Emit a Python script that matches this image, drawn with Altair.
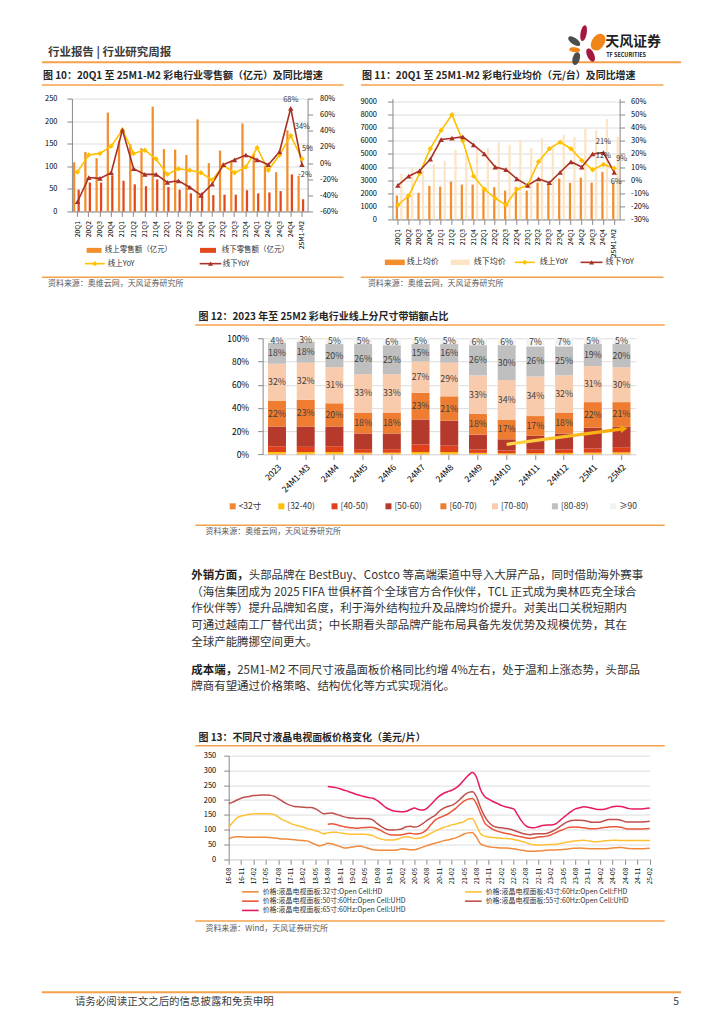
import altair as alt
import pandas as pd

FONT = "Noto Sans CJK SC"
RULE = "#F5A14B"
TXT = "#333333"
AX = "#404040"
SRC = "#595959"
ONE = pd.DataFrame({"k": [0]})

# ---------------- Figure 10 / 11 : quarterly data ----------------
quarters = ["20Q1", "20Q2", "20Q3", "20Q4", "21Q1", "21Q2", "21Q3", "21Q4",
            "22Q1", "22Q2", "22Q3", "22Q4", "23Q1", "23Q2", "23Q3", "23Q4",
            "24Q1", "24Q2", "24Q3", "24Q4", "25M1-M2"]
sales_online = [109, 132, 118, 219, 157, 149, 140, 232, 138, 137, 125, 204, 107, 135, 112, 195, 128, 101, 87, 180, 79]
sales_offline = [48, 64, 64, 80, 68, 60, 56, 71, 54, 48, 40, 42, 36, 37, 37, 47, 40, 42, 45, 82, 27]
sales_online_yoy = [-11, 10, 12, 21, 41, 12, 16, 5, -14, -7, -9, -12, -21, -3, -12, -5, 19, -9, 10, 34, 5]
sales_offline_yoy = [-48, -18, -19, -12, 41, -7, -14, -14, -24, -22, -30, -40, -26, -2, 4, 10, 4, -2, 14, 68, -2]

price_online = [1825, 1880, 2030, 2560, 2510, 2890, 2660, 2660, 2330, 2460, 2200, 2460, 2200, 2810, 2660, 3120, 2790, 3190, 2810, 3630, 2790]
price_offline = [3470, 3980, 3730, 4200, 4490, 5300, 5300, 5500, 5450, 5860, 5700, 6090, 5450, 6210, 5630, 6470, 6310, 6900, 6820, 7660, 6310]
price_online_yoy = [-19, -12, 5, 24, 38, 50, 30, 3, -7, -14, -19, -7, -4, 14, 24, 29, 24, 15, 8, 12, 9]
price_offline_yoy = [-4, 3, 7, 16, 31, 32, 33, 27, 20, 10, 8, 1, -4, 1, -2, 6, 14, 10, 20, 21, 6]

# ---------------- Figure 12 : size-band shares ----------------
months12 = ["2023", "24M1-M3", "24M4", "24M5", "24M6", "24M7", "24M8", "24M9",
            "24M10", "24M11", "24M12", "25M1", "25M2"]
sizes12 = ["<32寸", "[32-40)", "[40-50)", "[50-60)", "[60-70)", "[70-80)", "[80-89)", "≥90"]
share_lt32 = [0.5, 0.5, 0.5, 0.5, 0.5, 0.5, 0.5, 0.3, 0.3, 0.3, 0.3, 0.5, 0.5]
share_32_40 = [1.5, 1.5, 1.5, 1.0, 1.0, 1.5, 1.5, 1.0, 0.7, 0.7, 1.0, 1.0, 1.2]
share_40_50 = [5.0, 4.5, 5.0, 3.0, 3.0, 6.5, 5.5, 3.0, 2.4, 3.0, 3.0, 3.5, 4.5]
share_50_60 = [17.0, 17.5, 17.0, 13.5, 13.5, 21.5, 21.5, 12.7, 9.6, 12.0, 13.7, 18.0, 17.8]
share_60_70 = [22, 23, 20, 18, 18, 23, 21, 18, 17, 17, 18, 22, 21]
share_70_80 = [32, 32, 31, 33, 33, 27, 29, 33, 34, 34, 32, 31, 30]
share_80_89 = [18, 18, 20, 26, 25, 15, 16, 26, 30, 26, 25, 19, 20]
share_ge90 = [4, 3, 5, 5, 6, 5, 5, 6, 6, 7, 7, 5, 5]
arrow12_from = ("24M10", 8.6)
arrow12_to = ("25M2", 21.9)

# ---------------- Figure 13 : monthly panel prices ----------------
months13 = []
_y, _m = 2016, 8
for _ in range(103):
    months13.append(f"{_y % 100:02d}-{_m:02d}")
    _m += 1
    if _m > 12:
        _m, _y = 1, _y + 1
ticks13 = months13[::3]
names13 = ["价格:液晶电视面板:32寸:Open Cell:HD",
           "价格:液晶电视面板:43寸:60Hz:Open Cell:FHD",
           "价格:液晶电视面板:50寸:60Hz:Open Cell:UHD",
           "价格:液晶电视面板:55寸:60Hz:Open Cell:UHD",
           "价格:液晶电视面板:65寸:60Hz:Open Cell:UHD"]
p32 = [69, 74, 76, 76, 75, 74, 74, 74, 74, 74, 73, 72, 70,
       68, 68, 67, 66, 64, 63, 62, 56, 50, 45, 49, 54,
       52, 47, 43, 38, 39, 41, 44, 44, 40, 36, 32, 31,
       30, 30, 30, 30, 32, 35, 34, 32, 32, 36, 41, 46,
       50, 54, 58, 62, 65, 68, 72, 78, 85, 89, 90, 75,
       52, 46, 42, 40, 39, 38, 38, 37, 35, 33, 30, 28,
       27, 27, 28, 29, 30, 31, 31, 32, 33, 34, 36, 37,
       38, 37, 36, 35, 35, 35, 35, 36, 38, 39, 40, 38,
       36, 35, 35, 35, 36, 37]
p43 = [107, 125, 140, 146, 149, 152, 153, 154, 154, 154, 153, 151, 143,
       134, 128, 121, 116, 112, 109, 104, 101, 96, 92, 86, 89,
       91, 91, 89, 87, 85, 84, 84, 84, 84, 82, 79, 72,
       68, 65, 65, 65, 68, 73, 76, 74, 70, 71, 74, 80,
       88, 95, 101, 107, 111, 116, 119, 123, 127, 136, 138, 115,
       86, 78, 75, 73, 72, 71, 70, 69, 67, 64, 60, 56,
       51, 49, 48, 48, 49, 50, 50, 52, 55, 58, 60, 62,
       63, 64, 62, 60, 59, 60, 62, 63, 64, 64, 63, 63,
       63, 63, 63, 63, 63, 63]
p50 = [None] * 24 + [
       118, 120, 117, 113, 110, 107, 106, 105, 106, 107, 108, 107, 103,
       96, 88, 83, 82, 82, 83, 86, 88, 85, 86, 90, 100,
       117, 132, 140, 146, 152, 162, 172, 185, 196, 203, 205, 188,
       155, 123, 110, 101, 95, 91, 88, 85, 81, 78, 75, 72,
       70, 72, 75, 76, 78, 82, 88, 95, 100, 106, 108, 109,
       108, 106, 104, 103, 103, 105, 107, 109, 110, 110, 108, 104,
       102, 102, 102, 102, 103, 104]
p55 = [188, 193, 200, 206, 210, 212, 215, 216, 217, 217, 216, 213, 205,
       196, 188, 182, 178, 177, 176, 175, 175, 170, 162, 154, 155,
       156, 152, 148, 143, 140, 139, 138, 138, 138, 137, 132, 120,
       110, 102, 99, 99, 100, 103, 110, 111, 109, 112, 120, 131,
       140, 148, 162, 172, 178, 182, 190, 202, 216, 225, 228, 212,
       175, 145, 125, 113, 108, 106, 104, 102, 98, 93, 88, 84,
       83, 85, 86, 86, 87, 92, 99, 108, 118, 126, 131, 132,
       132, 131, 128, 125, 125, 126, 130, 134, 134, 134, 132, 127,
       126, 126, 126, 126, 127, 128]
p65 = [None] * 24 + [
       246, 244, 242, 238, 233, 229, 224, 219, 215, 211, 208, 206, 198,
       187, 175, 168, 163, 161, 160, 162, 168, 173, 168, 166, 172,
       185, 200, 213, 222, 228, 233, 240, 252, 268, 283, 293, 278,
       235, 212, 203, 195, 189, 182, 177, 174, 170, 150, 128, 113,
       107, 106, 110, 114, 116, 116, 118, 128, 140, 151, 162, 170,
       174, 177, 176, 172, 169, 168, 169, 173, 177, 179, 178, 175,
       171, 170, 170, 170, 171, 173]

# ---------------- texts ----------------
header_text = "行业报告 | 行业研究周报"
title10 = "图 10：20Q1 至 25M1-M2 彩电行业零售额（亿元）及同比增速"
title11 = "图 11：20Q1 至 25M1-M2 彩电行业均价（元/台）及同比增速"
title12 = "图 12：2023 年至 25M2 彩电行业线上分尺寸带销额占比"
title13 = "图 13：不同尺寸液晶电视面板价格变化（美元/片）"
source_avc = "资料来源：奥维云网，天风证券研究所"
source_wind = "资料来源：Wind，天风证券研究所"
para = [
    ("外销方面，", "头部品牌在 BestBuy、Costco 等高端渠道中导入大屏产品，同时借助海外赛事"),
    ("", "（海信集团成为 2025 FIFA 世俱杯首个全球官方合作伙伴，TCL 正式成为奥林匹克全球合"),
    ("", "作伙伴等）提升品牌知名度，利于海外结构拉升及品牌均价提升。对美出口关税短期内"),
    ("", "可通过越南工厂替代出货；中长期看头部品牌产能布局具备先发优势及规模优势，其在"),
    ("", "全球产能腾挪空间更大。"),
    ("成本端，", "25M1-M2 不同尺寸液晶面板价格同比约增 4%左右，处于温和上涨态势，头部品"),
    ("", "牌商有望通过价格策略、结构优化等方式实现消化。"),
]
footer_text = "请务必阅读正文之后的信息披露和免责申明"

# ---------------- colours ----------------
C_ON = "#F28E2B"
C_OFF = "#E1491D"
C_CREAM = "#FCE4C4"
C_YOY_ON = "#FFC000"
C_YOY_OFF = "#A93226"
colors12 = ["#F0872E", "#FFC000", "#E0401C", "#B53A2B", "#EE7D31", "#F8CBAD", "#BFBFBF", "#F2F2F2"]
colors13 = ["#F08A3E", "#FFC133", "#E9573A", "#C0504D", "#E8195C"]

L = 9  # left edge (page px) of every row box; a 1px spacer occupies page x 8..9
NOVIEW = alt.ViewBackground(stroke=None, strokeWidth=0, fill=None)


# ---------------- helpers (page-pixel decorations) ----------------
def txt(s, px, py, org, size, color=TXT, weight="normal", align="left", baseline="middle"):
    return alt.Chart(ONE).mark_text(text=s, font=FONT, fontSize=size, fontWeight=weight, color=color,
                                    align=align, baseline=baseline).encode(
        x=alt.value(px - org[0]), y=alt.value(py - org[1]))


def hrule(px0, px1, py, org, color=RULE, width=1.5):
    return alt.Chart(ONE).mark_rule(color=color, strokeWidth=width).encode(
        x=alt.value(px0 - org[0]), x2=alt.value(px1 - org[0]), y=alt.value(py - org[1]))


def _dot(px, py, org):
    return alt.Chart(ONE).mark_rect(color="#FFFFFF", opacity=1, strokeWidth=0).encode(
        x=alt.value(px - org[0]), x2=alt.value(px + 1 - org[0]),
        y=alt.value(py - org[1]), y2=alt.value(py + 1 - org[1]))


def box(b, org):
    # two page-coloured 1px dots at opposite corners fix the cell's extent for the layout
    return [_dot(b[0], b[1], org), _dot(b[2] - 1, b[3] - 1, org)]


def key_rect(cx, cy, org, color, w, h):
    return alt.Chart(ONE).mark_rect(color=color).encode(
        x=alt.value(cx - w / 2 - org[0]), x2=alt.value(cx + w / 2 - org[0]),
        y=alt.value(cy - h / 2 - org[1]), y2=alt.value(cy + h / 2 - org[1]))


def key_point(cx, cy, org, color, shape, size, angle=0):
    return alt.Chart(ONE).mark_point(shape=shape, filled=True, opacity=1, color=color, size=size,
                                     angle=angle).encode(
        x=alt.value(cx - org[0]), y=alt.value(cy - org[1]))


def legend_entry(label, color, kind, cx, cy, org, sym_w, font_size, label_x=None, sym_h=5):
    out = []
    if kind == "bar":
        out.append(key_rect(cx, cy, org, color, sym_w, sym_h))
    elif kind == "line":
        out.append(hrule(cx - sym_w / 2, cx + sym_w / 2, cy, org, color, 1.6))
    else:
        out.append(hrule(cx - sym_w / 2, cx + sym_w / 2, cy, org, color, 1.6))
        out.append(key_point(cx, cy, org, color, kind, 26))
    lx = label_x if label_x is not None else cx + sym_w / 2 + 4
    out.append(txt(label, lx, cy, org, font_size))
    return out


def petal(r):
    w = 4 * r / 3
    return f"M0,-1 C{w:.3f},-1 {w:.3f},1 0,1 C{-w:.3f},1 {-w:.3f},-1 0,-1 Z"


def spacer():
    return alt.Chart(ONE).mark_rect(color="#FFFFFF", strokeWidth=0).encode(
        x=alt.value(0), x2=alt.value(1), y=alt.value(0), y2=alt.value(1)
    ).properties(width=1, height=1, view=NOVIEW)


# =============== ROW 0 : header ===============
ORG0 = (L, 8)
BOX0 = (L, 8, 716, 66)
logo = [  # (cx, cy, length, ratio, angle, colour)
    (584.5, 32.5, 16, 0.38, 10, "#A6193E"),
    (599.0, 41.5, 18, 0.70, 32, "#F08519"),
    (575.0, 40.5, 14, 0.45, 305, "#4D4D4D"),
    (575.5, 49.0, 11, 0.45, 95, "#F08519"),
    (577.0, 58.0, 13, 0.55, 15, "#4D4D4D"),
    (591.5, 54.5, 14, 0.50, 335, "#A6193E"),
]
header_layers = box(BOX0, ORG0) + [
    txt(header_text, 48, 52, ORG0, 11.5, color="#3A3A3A", weight="bold"),
    hrule(42, 682, 61.5, ORG0, RULE, 2)]
for cx, cy, ln, r, ang, col in logo:
    header_layers.append(key_point(cx, cy, ORG0, col, petal(r), ln * ln, ang))
header_layers.append(txt("天风证券", 606, 41.5, ORG0, 14, color="#222222", weight="bold"))
header_layers.append(txt("TF SECURITIES", 607, 54, ORG0, 5.5, color="#222222", weight="bold"))
header = alt.layer(*header_layers).properties(width=BOX0[2] - BOX0[0], height=BOX0[3] - BOX0[1], view=NOVIEW)


# =============== shared builder for figures 10 / 11 ===============
def dual_chart(names, bar_vals, bar_colors, yl_dom, yl_vals, yl_pad, yr_dom, yr_vals, yr_pad,
               yoy_on, yoy_off, labels):
    bars_df = pd.DataFrame({"q": quarters * 2, "s": [names[0]] * 21 + [names[1]] * 21,
                            "v": bar_vals[0] + bar_vals[1]})
    yoy_df = pd.DataFrame({"q": quarters, "on": yoy_on, "off": yoy_off})
    x_axis = alt.Axis(labelAngle=-90, labelFontSize=6.8, labelPadding=4, title=None, labelOverlap=False)
    xenc = alt.X("q:N", sort=quarters, scale=alt.Scale(paddingInner=0.2, paddingOuter=0.1), axis=x_axis)
    bars = alt.Chart(bars_df).mark_bar().encode(
        x=xenc,
        xOffset=alt.XOffset("s:N", sort=names, scale=alt.Scale(paddingInner=0, paddingOuter=0)),
        y=alt.Y("v:Q", scale=alt.Scale(domain=yl_dom, nice=False),
                axis=alt.Axis(orient="left", values=yl_vals, format="d", labelFontSize=7.5,
                              labelPadding=yl_pad, title=None)),
        color=alt.Color("s:N", scale=alt.Scale(domain=names, range=bar_colors), legend=None))
    r_scale = alt.Scale(domain=yr_dom, nice=False)
    r_axis = alt.Axis(orient="right", values=yr_vals, labelExpr="datum.value + '%'", labelFontSize=7.5,
                      labelPadding=yr_pad, title=None)

    def yr(field):
        return alt.Y(f"{field}:Q", scale=r_scale, axis=r_axis)

    inner = [
        alt.Chart(yoy_df).mark_line(color=C_YOY_ON, strokeWidth=1.6).encode(x=xenc, y=yr("on")),
        alt.Chart(yoy_df).mark_line(color=C_YOY_OFF, strokeWidth=1.6).encode(x=xenc, y=yr("off")),
        alt.Chart(yoy_df).mark_point(shape="diamond", filled=True, size=30, color=C_YOY_ON, opacity=1).encode(
            x=xenc, y=yr("on")),
        alt.Chart(yoy_df).mark_point(shape="triangle-up", filled=True, size=30, color=C_YOY_OFF, opacity=1).encode(
            x=xenc, y=yr("off")),
    ]
    for q, field, dx, dy, align in labels:
        inner.append(
            alt.Chart(yoy_df).transform_filter(alt.datum.q == q)
            .transform_calculate(t=f"datum.{field} + '%'")
            .mark_text(font=FONT, fontSize=7.5, color=TXT, dx=dx, dy=dy, align=align)
            .encode(x=xenc, y=yr(field), text="t:N"))
    return bars, alt.layer(*inner)


# =============== ROW 1 : figure 10 ===============
ORG10 = (72, 98)
W10, H10 = 236, 113
BOX10 = (L, 66, 352, 298)
names10 = ["线上零售额（亿元）", "线下零售额（亿元）"]
labels10 = [("24Q4", "off", 0, -8, "center"), ("24Q4", "on", 4, -9, "left"),
            ("25M1-M2", "on", 0, -10, "left"), ("25M1-M2", "off", 3, 10, "center")]
bars10, inner10 = dual_chart(names10, [sales_online, sales_offline], [C_ON, C_OFF],
                             [0, 250], list(range(0, 251, 50)), 10, [-60, 80], list(range(-60, 81, 20)), 7,
                             sales_online_yoy, sales_offline_yoy, labels10)
legend10 = [("线上零售额（亿元）", C_ON, "bar"), ("线下零售额（亿元）", C_OFF, "bar"),
            ("线上YoY", C_YOY_ON, "diamond"), ("线下YoY", C_YOY_OFF, "triangle-up")]
legend10_pos = [(94.2, 250, 15, 105), (208.3, 250, 16, 222), (95, 263.3, 20, 108), (210.8, 263.3, 21.7, 223)]
deco10 = [txt(title10, 43, 75.5, ORG10, 10, color="#262626", weight="bold"),
          hrule(42, 344, 84.5, ORG10),
          hrule(42, 344, 277, ORG10),
          txt(source_avc, 48, 284, ORG10, 8, color=SRC)]
for (lab, col, kind), (cx, cy, sw, lx) in zip(legend10, legend10_pos):
    deco10 += legend_entry(lab, col, kind, cx, cy, ORG10, sw, 7.5, label_x=lx)
c10 = alt.layer(*box(BOX10, ORG10), bars10, inner10, *deco10).resolve_scale(y="independent").properties(
    width=W10, height=H10, view=NOVIEW)

# =============== ROW 1 : figure 11 ===============
ORG11 = (392.6, 98)
W11, H11 = 227.5, 121
BOX11 = (352, 66, 716, 298)
names11 = ["线上均价", "线下均价"]
labels11 = [("24Q4", "off", 0, -11, "center"), ("24Q4", "on", 0, -8, "center"),
            ("25M1-M2", "on", 2, -9, "left"), ("25M1-M2", "off", 2, 10, "center")]
bars11, inner11 = dual_chart(names11, [price_online, price_offline], [C_ON, C_CREAM],
                             [0, 9000 * 121 / 118], list(range(0, 9001, 1000)), 11,
                             [-30, -30 + 90 * 121 / 118], list(range(-30, 61, 10)), 6,
                             price_online_yoy, price_offline_yoy, labels11)
legend11 = [("线上均价", C_ON, "bar"), ("线下均价", C_CREAM, "bar"),
            ("线上YoY", C_YOY_ON, "diamond"), ("线下YoY", C_YOY_OFF, "triangle-up")]
legend11_pos = [(395, 262, 20, 407), (460.5, 262, 19, 474), (525, 262, 20, 540), (592, 262, 22, 606)]
deco11 = [txt(title11, 362, 75.5, ORG11, 10, color="#262626", weight="bold"),
          hrule(361, 664, 84.5, ORG11),
          hrule(361, 664, 277, ORG11),
          txt(source_avc, 368, 284, ORG11, 8, color=SRC)]
for (lab, col, kind), (cx, cy, sw, lx) in zip(legend11, legend11_pos):
    deco11 += legend_entry(lab, col, kind, cx, cy, ORG11, sw, 8, label_x=lx, sym_h=5.5)
c11 = alt.layer(*box(BOX11, ORG11), bars11, inner11, *deco11).resolve_scale(y="independent").properties(
    width=W11, height=H11, view=NOVIEW)

# =============== ROW 2 : figure 12 ===============
ORG12 = (262.3, 337.7)
W12, H12 = 373.75, 116.3
BOX12 = (L, 298, 716, 548)
shares = [share_lt32, share_32_40, share_40_50, share_50_60, share_60_70, share_70_80, share_80_89, share_ge90]
rows12 = []
for k, (sz, arr) in enumerate(zip(sizes12, shares)):
    for m, v in zip(months12, arr):
        rows12.append({"m": m, "size": sz, "idx": k, "v": v})
df12 = pd.DataFrame(rows12)
x12 = alt.X("m:N", sort=months12, scale=alt.Scale(paddingInner=0.374, paddingOuter=0.187),
            axis=alt.Axis(labelAngle=-45, labelFontSize=8.5, labelPadding=3, domain=True, domainColor="#D9D9D9",
                          title=None, labelOverlap=False))
y12s = alt.Scale(domain=[0, 100], nice=False)
y12a = alt.Axis(values=list(range(0, 101, 20)), labelExpr="datum.value + '%'", labelFontSize=8.5, labelPadding=9,
                title=None)
bars12 = alt.Chart(df12).mark_bar().encode(
    x=x12, y=alt.Y("v:Q", stack="zero", scale=y12s, axis=y12a),
    color=alt.Color("size:N", scale=alt.Scale(domain=sizes12, range=colors12), legend=None),
    order=alt.Order("idx:Q", sort="ascending"))
labels12 = alt.Chart(df12).transform_stack(
    stack="v", groupby=["m"], as_=["v0", "v1"], sort=[alt.SortField("idx", order="ascending")]
).transform_filter("datum.idx >= 4").transform_calculate(
    mid="(datum.v0 + datum.v1) / 2", t="datum.v + '%'"
).mark_text(font=FONT, fontSize=8.8, color="#404040").encode(
    x=x12, y=alt.Y("mid:Q", scale=y12s, axis=y12a), text="t:N")
arrow_df = pd.DataFrame({"i0": [months12.index(arrow12_from[0])], "i1": [months12.index(arrow12_to[0]) + 0.05],
                         "y0": [arrow12_from[1]], "y1": [arrow12_to[1]]})
ax_idx = alt.Scale(domain=[-0.5, len(months12) - 0.5], nice=False, zero=False)
grad = alt.LinearGradient(gradient="linear", x1=0, x2=1, y1=0, y2=0,
                          stops=[alt.GradientStop(color="#FFD84D", offset=0),
                                 alt.GradientStop(color="#F7A600", offset=1)])
arrow_line = alt.Chart(arrow_df).mark_rule(stroke=grad, strokeWidth=3.2).encode(
    x=alt.X("i0:Q", scale=ax_idx, axis=None), x2="i1:Q",
    y=alt.Y("y0:Q", scale=y12s, axis=y12a), y2="y1:Q")
arrow_head = alt.Chart(arrow_df).mark_point(shape="M-0.6,-1 L1.2,0 L-0.6,1 Z", filled=True, opacity=1,
                                            color="#F7A600", size=60, angle=352.4).encode(
    x=alt.X("i1:Q", scale=ax_idx, axis=None), y=alt.Y("y1:Q", scale=y12s, axis=y12a))
legend12_x = [232.3, 281, 334.3, 388.3, 443.3, 495, 555, 613.3]
deco12 = [txt(title12, 198, 316, ORG12, 10, color="#262626", weight="bold"),
          hrule(195, 665, 324.5, ORG12),
          hrule(195, 665, 525, ORG12),
          txt(source_avc, 205, 532, ORG12, 8, color=SRC)]
for lab, col, cx in zip(sizes12, colors12, legend12_x):
    deco12.append(key_rect(cx, 506, ORG12, col, 6, 6))
    deco12.append(txt(lab, cx + 6, 506, ORG12, 8.5))
c12 = alt.layer(*box(BOX12, ORG12), alt.layer(bars12, labels12), alt.layer(arrow_line, arrow_head),
                *deco12).resolve_scale(x="independent").properties(width=W12, height=H12, view=NOVIEW)

# =============== ROW 3 : text ===============
ORG3 = (L, 548)
BOX3 = (L, 548, 716, 722)
para_y = [575, 591.7, 608.4, 625.1, 641.8, 670, 686.7]
FS = 11.5
para_layers = box(BOX3, ORG3)
for (bold, rest), py in zip(para, para_y):
    x0 = 191.5
    if bold:
        para_layers.append(txt(bold, x0, py, ORG3, FS, color="#1F1F1F", weight="bold"))
        x0 += len(bold) * FS
    para_layers.append(txt(rest, x0, py, ORG3, FS, color=TXT))
para_chart = alt.layer(*para_layers).properties(width=BOX3[2] - BOX3[0], height=BOX3[3] - BOX3[1], view=NOVIEW)

# =============== ROW 4 : figure 13 ===============
ORG13 = (228.3, 754.3)
W13, H13 = 421.7, 103.7
BOX13 = (L, 722, 716, 948)
rows13 = []
for name, arr in zip(names13, [p32, p43, p50, p55, p65]):
    for m, v in zip(months13, arr):
        if v is not None:
            rows13.append({"m": m, "s": name, "v": v})
df13 = pd.DataFrame(rows13)
lines13 = alt.Chart(df13).mark_line(strokeWidth=1.5, interpolate="monotone").encode(
    x=alt.X("m:O", sort=months13, scale=alt.Scale(type="point", padding=0),
            axis=alt.Axis(values=ticks13, labelAngle=-90, labelFontSize=6.5, labelPadding=3, domain=True,
                          domainColor="#D9D9D9", title=None, labelOverlap=False)),
    y=alt.Y("v:Q", scale=alt.Scale(domain=[0, 350], nice=False),
            axis=alt.Axis(values=list(range(0, 351, 50)), labelFontSize=7.5, labelPadding=8, title=None)),
    color=alt.Color("s:N", scale=alt.Scale(domain=names13, range=colors13), legend=None))
legend13_pos = [(250, 890.7), (473.3, 890.7), (250, 900), (473.3, 900), (250, 909.3)]
deco13 = [txt(title13, 198, 737, ORG13, 10, color="#262626", weight="bold"),
          hrule(195, 665, 744.5, ORG13),
          hrule(195, 665, 920, ORG13),
          txt(source_wind, 205, 928, ORG13, 8, color=SRC)]
for lab, col, (cx, cy) in zip(names13, colors13, legend13_pos):
    deco13 += legend_entry(lab, col, "line", cx, cy, ORG13, 16.6, 7)
c13 = alt.layer(*box(BOX13, ORG13), lines13, *deco13).properties(width=W13, height=H13, view=NOVIEW)

# =============== ROW 5 : footer ===============
ORG5 = (L, 948)
BOX5 = (L, 948, 716, 1016)
footer = alt.layer(
    *box(BOX5, ORG5),
    hrule(42, 682, 991, ORG5, RULE, 2),
    txt(footer_text, 75, 1001, ORG5, 10.5, color="#404040"),
    txt("5", 680, 1001, ORG5, 10.5, color="#404040", align="right"),
).properties(width=BOX5[2] - BOX5[0], height=BOX5[3] - BOX5[1], view=NOVIEW)

page = alt.vconcat(
    alt.hconcat(spacer(), header, spacing=0),
    alt.hconcat(spacer(), c10, c11, spacing=0).resolve_scale(color="independent"),
    alt.hconcat(spacer(), c12, spacing=0),
    alt.hconcat(spacer(), para_chart, spacing=0),
    alt.hconcat(spacer(), c13, spacing=0),
    alt.hconcat(spacer(), footer, spacing=0),
    spacing=0,
).resolve_scale(color="independent").properties(padding=0).configure_view(
    stroke=None, strokeWidth=0
).configure_axis(
    grid=False, ticks=False, domain=False, labelFont=FONT, labelColor=AX
).configure(font=FONT)

page.save("out.html", embed_options={"renderer": "svg", "actions": False})
